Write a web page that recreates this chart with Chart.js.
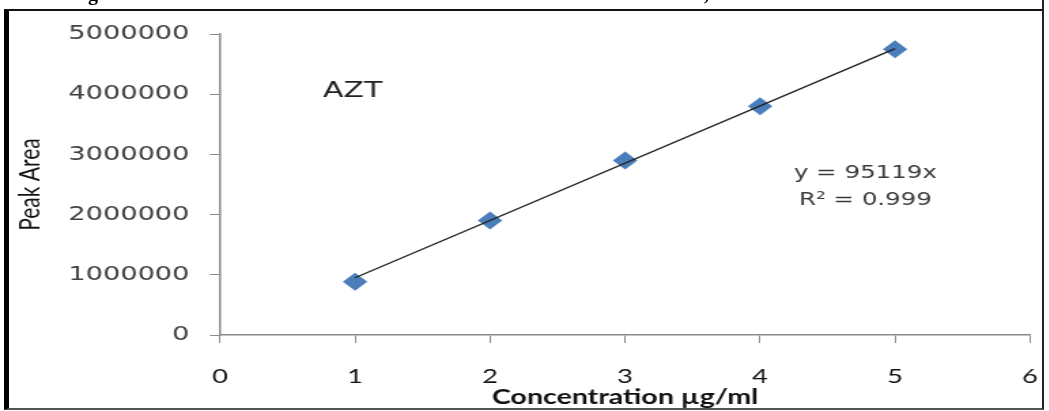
<!DOCTYPE html>
<html>
<head>
<meta charset="utf-8">
<script src="https://cdn.jsdelivr.net/npm/chart.js@4.4.0/dist/chart.umd.min.js"></script>
<style>
  html, body { margin: 0; padding: 0; background: #fff; overflow: hidden; }
  #chart { position: absolute; left: 0; top: 0; transform-origin: 0 0; transform: scaleX(1.36); }
  #frame { position: absolute; left: 4px; top: 9px; width: 1033px; height: 397px;
           border-left: 5px solid #000; border-top: 2px solid #111;
           border-right: 2px solid #222; border-bottom: 2px solid #555; pointer-events: none; }
  #corner { position: absolute; left: 1042px; top: 0; width: 2px; height: 11px; background: #222; }
  .cap { position: absolute; top: -17px; font: bold 20px "Liberation Serif"; line-height: 20px; color: #000; }
</style>
</head>
<body>
<canvas id="chart" width="771" height="411"></canvas>
<div id="frame"></div>
<div id="corner"></div>
<div class="cap" style="left:88px">g</div>
<div class="cap" style="left:704px">,</div>
<script>
// valores
const concentration = [1, 2, 3, 4, 5];
const peakArea = [885000, 1900000, 2900000, 3800000, 4745000];

// linha de tendência (extremos)
const trendX = [1, 5];
const trendY = [951000, 4756000];

const xTicks = [0, 1, 2, 3, 4, 5, 6];
const yTicks = [0, 1000000, 2000000, 3000000, 4000000, 5000000];

// --- textos dentro da área do gráfico ---
const notes = {
    id: "notes",
    afterDatasetsDraw(chart) {
        const { ctx, scales: { x, y } } = chart;
        ctx.save();
        ctx.textBaseline = "middle";
        ctx.fillStyle = "#222";
        ctx.font = '22px "DejaVu Sans"';
        ctx.textAlign = "left";
        ctx.fillText("AZT", x.getPixelForValue(0.763), y.getPixelForValue(4050000));
        ctx.fillStyle = "#3a3a3a";
        ctx.font = '18px "DejaVu Sans"';
        ctx.textAlign = "center";
        ctx.fillText("y = 95119x", x.getPixelForValue(4.78), y.getPixelForValue(2680000));
        ctx.fillText("R² = 0.999", x.getPixelForValue(4.78), y.getPixelForValue(2240000));
        ctx.restore();
    }
};

const axisColor = "#8a8a8a";

new Chart(document.getElementById("chart").getContext("2d"), {
    type: "scatter",
    data: {
        datasets: [
            {
                type: "line",
                data: trendX.map((v, i) => ({ x: v, y: trendY[i] })),
                borderColor: "#222",
                borderWidth: 1.4,
                pointRadius: 0,
                order: 0
            },
            {
                data: concentration.map((v, i) => ({ x: v, y: peakArea[i] })),
                pointStyle: "rectRot",
                pointRadius: 9,
                backgroundColor: "#4a7ebb",
                borderColor: "#4a7ebb",
                borderWidth: 0,
                order: 1
            }
        ]
    },
    options: {
        responsive: false,
        devicePixelRatio: 1,
        animation: false,
        layout: { padding: { left: 0, right: 13.6, top: 34, bottom: 0 } },
        plugins: { legend: { display: false }, tooltip: { enabled: false } },
        scales: {
            x: {
                type: "linear",
                min: 0,
                max: 6,
                afterBuildTicks: s => { s.ticks = xTicks.map(v => ({ value: v })); },
                afterFit: s => {
                    s.height = 76;
                    s.paddingLeft = 0;   // a margem fica só no layout.padding
                    s.paddingRight = 0;
                },
                ticks: { font: { family: "Lato", size: 20 }, color: "#111", padding: 22 },
                grid: { drawOnChartArea: false, tickLength: 8, color: axisColor },
                border: { color: axisColor, width: 1.5 },
                title: {
                    display: true,
                    text: "Concentration µg/ml",
                    font: { family: "Lato", size: 21, weight: "bold" },
                    color: "#111",
                    padding: { top: 0, bottom: 1 }
                }
            },
            y: {
                min: 0,
                max: 5000000,
                afterBuildTicks: s => { s.ticks = yTicks.map(v => ({ value: v })); },
                afterFit: s => { s.width = 161.8; },
                ticks: {
                    font: { family: "DejaVu Sans", size: 20 },
                    color: "#404040",
                    padding: 15,
                    callback: v => String(v)
                },
                grid: { drawOnChartArea: false, tickLength: 7.5, color: axisColor },
                border: { color: axisColor, width: 1.5 },
                title: {
                    display: true,
                    text: "Peak Area",
                    font: { family: "Lato", size: 21 },
                    color: "#111",
                    padding: { top: 10, bottom: 0 }
                }
            }
        }
    },
    plugins: [notes]
});
</script>
</body>
</html>
